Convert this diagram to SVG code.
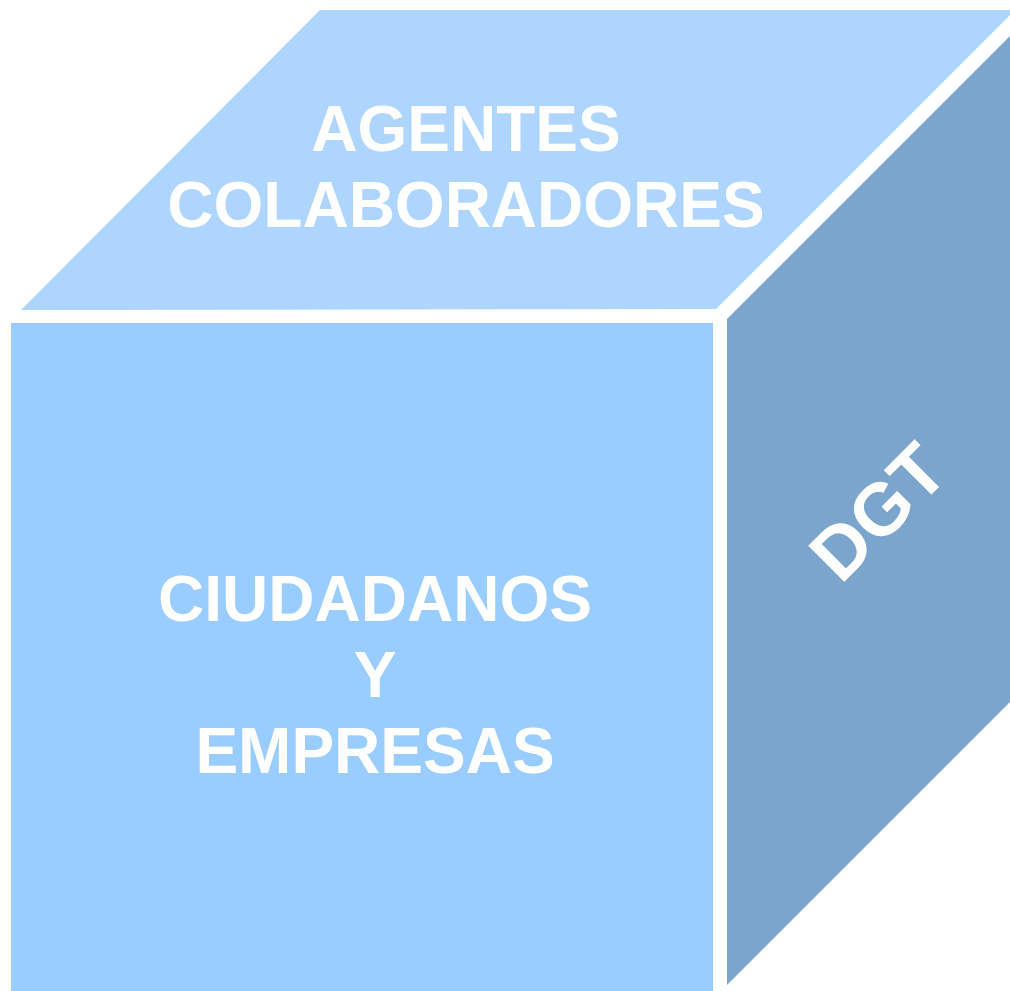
<svg xmlns="http://www.w3.org/2000/svg" width="1010" height="991" viewBox="0 0 1010 991">
  <style>
    .lbl { font-family: "Liberation Sans", Arial, sans-serif; font-weight: bold; font-size: 64px; fill: #FFFFFF; text-anchor: middle; }
    .big { font-size: 74px; }
  </style>
  <rect x="0" y="0" width="1010" height="991" fill="#FFFFFF"/>
  <g id="top-face">
    <polygon points="21,310 320,10 1015,10 716,309" fill="#ADD5FE"/>
    <text class="lbl" x="466" y="151">AGENTES</text>
    <text class="lbl" x="466" y="227">COLABORADORES</text>
  </g>
  <g id="front-face">
    <rect x="11" y="323" width="702" height="680" fill="#99CCFF"/>
    <text class="lbl" x="375" y="621">CIUDADANOS</text>
    <text class="lbl" x="375" y="697">Y</text>
    <text class="lbl" x="375" y="773">EMPRESAS</text>
  </g>
  <g id="right-face">
    <polygon points="727,319 1010,36 1010,702 727,985" fill="#7BA5CD"/>
    <g transform="translate(877,511) rotate(-45)">
      <text class="lbl big" x="0" y="27">DGT</text>
    </g>
  </g>
  <g id="connectors"/>
</svg>
